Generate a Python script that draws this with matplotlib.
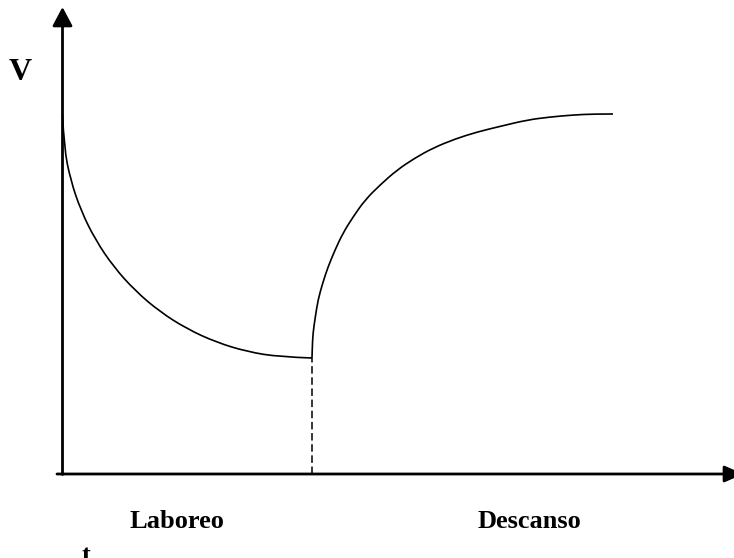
import matplotlib
matplotlib.use("Agg")
import matplotlib.pyplot as plt
from matplotlib.path import Path
from matplotlib.patches import PathPatch

# Laboreo phase (t, V) (arbitrary units)
t_lab = [0, 1.6, 8, 18.5, 33, 51.2, 72.7, 97.3, 124.5, 153.8, 184.8, 216.9, 249.5]
v_lab = [359, 326.3, 294.1, 263.2, 234, 207.1, 183.2, 162.3, 145.1, 131.7, 122.3, 117.1, 116]

# Descanso phase
t_des = [249.5, 249.8, 250.5, 252.8, 255.5, 260.2, 265.5, 272.5, 280.5, 290.5, 302.5,
         317.5, 334.5, 352.5, 370.5, 392.5, 414.5, 439.2, 464.5, 487.5, 510.5, 530.5, 550.5]
v_des = [116, 127, 141, 157, 174, 191, 207, 224, 241, 257, 274,
         289, 304, 316, 326, 335, 342, 348, 354, 357, 359, 360, 360]

labels = ["Laboreo", "Descanso"]
label_t = [114, 466.5]
y_label = "V"
x_label = "t"

fig = plt.figure(figsize=(7.34, 5.58), dpi=100)
ax = fig.add_axes([0, 0, 1, 1])
ax.set_xlim(-62.5, 671.5)
ax.set_ylim(-84, 474)
ax.axis("off")

font = ["Liberation Serif", "DejaVu Serif"]


def smooth_path(xs, ys):
    """Quadratic Bezier chain using the read points as control points."""
    pts = list(zip(xs, ys))
    verts = [pts[0]]
    codes = [Path.MOVETO]
    for i in range(1, len(pts) - 1):
        mid = ((pts[i][0] + pts[i + 1][0]) / 2, (pts[i][1] + pts[i + 1][1]) / 2)
        if i == len(pts) - 2:
            mid = pts[-1]
        verts += [pts[i], mid]
        codes += [Path.CURVE3, Path.CURVE3]
    return Path(verts, codes)


# axes with arrows
ax.annotate("", xy=(0, 467), xytext=(0, -0.5), annotation_clip=False,
            arrowprops=dict(arrowstyle="-|>,head_length=11.5,head_width=6.1",
                            mutation_scale=1, lw=2.0, color="black",
                            shrinkA=0, shrinkB=0))
ax.annotate("", xy=(681, 0), xytext=(-5.5, 0), annotation_clip=False,
            arrowprops=dict(arrowstyle="-|>,head_length=11.5,head_width=5.0",
                            mutation_scale=1, lw=2.0, color="black",
                            shrinkA=0, shrinkB=0))

# curves
for xs, ys in [(t_lab, v_lab), (t_des, v_des)]:
    ax.add_patch(PathPatch(smooth_path(xs, ys), facecolor="none",
                           edgecolor="black", lw=1.2, capstyle="butt"))

# dashed separator
ax.plot([t_lab[-1], t_lab[-1]], [0, v_lab[-1]], color="black", lw=1.1,
        linestyle=(0, (4.9, 2.4)))

# texts
ax.text(-42.5, 401, y_label, fontsize=23, fontweight="bold", family=font,
        ha="center", va="center")
for lab, tt in zip(labels, label_t):
    ax.text(tt, -54, lab, fontsize=19, fontweight="bold", family=font,
            ha="center", va="baseline")
ax.text(23.5, -88, x_label, fontsize=19, fontweight="bold", family=font,
        ha="center", va="baseline")

fig.savefig("out.png", dpi=100)
